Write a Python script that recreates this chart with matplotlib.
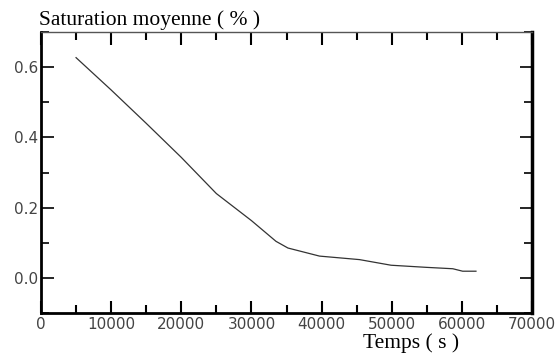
import numpy as np
import matplotlib.pyplot as plt
from matplotlib.ticker import MultipleLocator

# valeurs
temps = [5000, 10000, 15000, 20000, 25000, 30000, 33500, 35200, 39700,
         45400, 49900, 54900, 58700, 60100, 62000]
saturation = [0.627, 0.535, 0.44, 0.343, 0.24, 0.163, 0.104, 0.085, 0.062,
              0.052, 0.036, 0.030, 0.026, 0.019, 0.019]

plt.rcParams['font.family'] = 'DejaVu Sans'

fig = plt.figure(figsize=(5.56, 3.58), dpi=100)
ax = fig.add_axes([0.0737, 0.1257, 0.957 - 0.0737, 0.9106 - 0.1257])

ax.plot(temps, saturation, color='#333333', linewidth=0.9)

ax.set_xlim(0, 70000)
ax.set_ylim(-0.1, 0.7)
ax.xaxis.set_major_locator(MultipleLocator(10000))
ax.xaxis.set_minor_locator(MultipleLocator(5000))
ax.yaxis.set_minor_locator(MultipleLocator(0.1))
ax.set_yticks([0.0, 0.2, 0.4, 0.6])
ax.set_yticklabels(['0.0', '0.2', '0.4', '0.6'])

ax.tick_params(which='both', direction='in', top=True, right=True,
               labelsize=11, labelcolor='#444444', width=1.5, pad=3)
ax.tick_params(which='major', length=9)
ax.tick_params(which='minor', length=6)
ax.tick_params(axis='y', which='both', width=1.2, pad=2)

ax.spines['left'].set_linewidth(2)
ax.spines['bottom'].set_linewidth(2)
ax.spines['right'].set_linewidth(2.5)
ax.spines['top'].set_linewidth(1)
ax.spines['top'].set_color('#555555')

fig.text(0.070, 0.945, 'Saturation moyenne ( % )', family='Liberation Serif',
         fontsize=15.5, ha='left', va='center')
fig.text(0.739, 0.042, 'Temps ( s )', family='Liberation Serif',
         fontsize=15.5, ha='center', va='center')

fig.savefig('out.png', dpi=100)
